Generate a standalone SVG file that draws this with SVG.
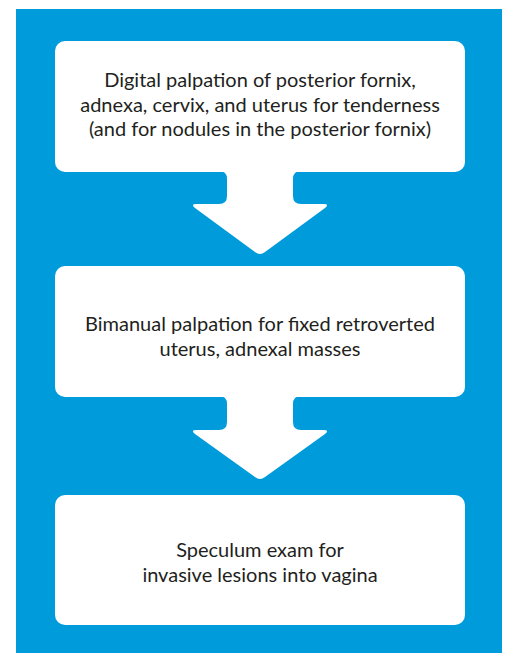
<svg xmlns="http://www.w3.org/2000/svg" width="506" height="653" viewBox="0 0 506 653">
  <style>
    .bg { fill: #009bdb; }
    .box { fill: #ffffff; }
    .arrow { fill: #ffffff; }
    .label { font-family: Lato, "Open Sans", "Liberation Sans", sans-serif; font-size: 20px; fill: #231f20; text-anchor: middle; }
  </style>
  <rect class="bg" x="16" y="9" width="486" height="644"/>
  <g id="connectors">
    <path class="arrow" d="M 219,171 Q 227,171 227,179 L 227,196 Q 227,204 219,204 L 197,204 Q 190,204 195,208 L 255,252 Q 260,256 265,252 L 325,208 Q 330,204 323,204 L 301,204 Q 293,204 293,196 L 293,179 Q 293,171 301,171 Z"/>
    <path class="arrow" d="M 219,396 Q 227,396 227,404 L 227,422 Q 227,430 219,430 L 197,430 Q 190,430 195,434 L 255,477 Q 260,481 265,477 L 325,434 Q 330,430 323,430 L 301,430 Q 293,430 293,422 L 293,404 Q 293,396 301,396 Z"/>
  </g>
  <g id="node1">
    <rect class="box" x="55" y="41" width="410" height="131" rx="10"/>
    <text class="label" x="260" y="87">Digital palpation of posterior fornix,</text>
    <text class="label" x="260" y="112">adnexa, cervix, and uterus for tenderness</text>
    <text class="label" x="260" y="136">(and for nodules in the posterior fornix)</text>
  </g>
  <g id="node2">
    <rect class="box" x="55" y="266" width="410" height="131" rx="10"/>
    <text class="label" x="260" y="331">Bimanual palpation for fixed retroverted</text>
    <text class="label" x="260" y="356">uterus, adnexal masses</text>
  </g>
  <g id="node3">
    <rect class="box" x="55" y="495" width="410" height="130" rx="10"/>
    <text class="label" x="260" y="557">Speculum exam for</text>
    <text class="label" x="260" y="582">invasive lesions into vagina</text>
  </g>
</svg>
